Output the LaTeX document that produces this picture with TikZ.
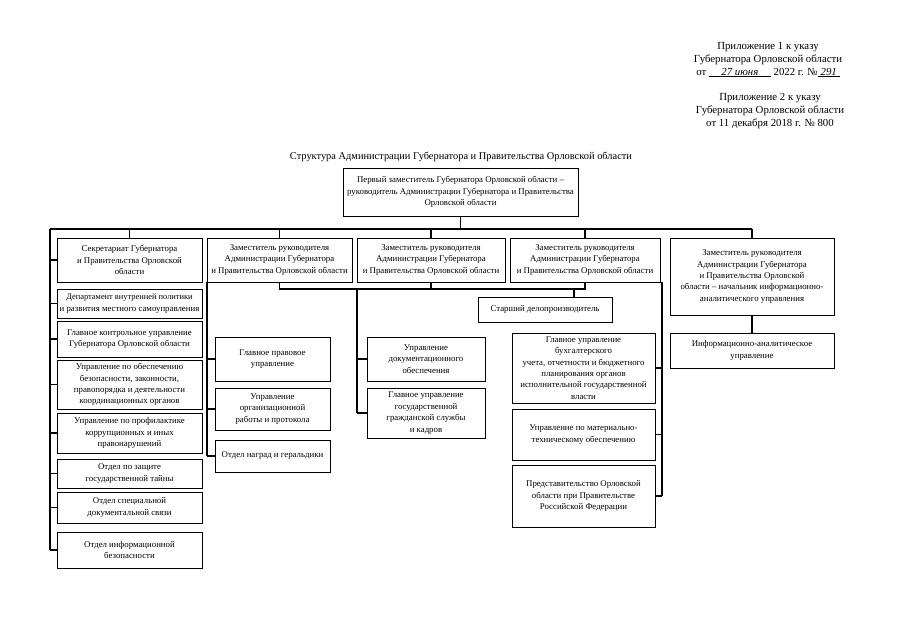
\documentclass[tikz,border=0pt]{standalone}
\usepackage{fontspec}
\setmainfont{Liberation Serif}
\tikzset{
  orgbox/.style={draw, line width=0.9pt, inner sep=1pt, outer sep=0pt, align=center,
    font=\fontsize{8.8}{11.4}\selectfont},
  link/.style={line width=1.1pt},
  hdr/.style={align=center, font=\fontsize{10.8}{12.6}\selectfont, inner sep=0pt}
}
\newcommand\obox[6]{\node[orgbox, minimum width={(#4-#2)*1pt}, minimum height={(#5-#3)*1pt}] (#1) at ({(#2+#4)/2},{(#3+#5)/2}) {#6};}
\begin{document}
\begin{tikzpicture}[x=1pt,y=-1pt]
\useasboundingbox (0,0) rectangle (905,637);
% header
\node[hdr] (h1) at (768,60) {Приложение 1 к указу\\ Губернатора Орловской области\\ от \underline{\makebox[62pt]{\itshape 27 июня}} 2022 г. №\underline{\makebox[22pt]{\itshape 291}}};
\node[hdr] (h2) at (770,111) {Приложение 2 к указу\\ Губернатора Орловской области\\ от 11 декабря 2018 г. № 800};
\node[hdr, font=\fontsize{10.4}{12.6}\selectfont] (title) at (461,157) {Структура Администрации Губернатора и Правительства Орловской области};
% top
\obox{t}{343}{168}{578}{216}{Первый заместитель Губернатора Орловской области –\\ руководитель Администрации Губернатора и Правительства\\ Орловской области}
% row
\obox{b1}{57}{238}{202}{282}{Секретариат Губернатора\\ и Правительства Орловской\\ области}
\obox{b2}{207}{238}{352}{282}{Заместитель руководителя\\ Администрации Губернатора\\ и Правительства Орловской области}
\obox{b3}{357}{238}{505}{282}{Заместитель руководителя\\ Администрации Губернатора\\ и Правительства Орловской области}
\obox{b4}{510}{238}{660}{282}{Заместитель руководителя\\ Администрации Губернатора\\ и Правительства Орловской области}
\obox{b5}{670}{238}{834}{315}{Заместитель руководителя\\ Администрации Губернатора\\ и Правительства Орловской\\ области – начальник информационно-\\ аналитического управления}
\obox{i}{670}{333}{834}{368}{Информационно-аналитическое\\ управление}
% column 1
\obox{s1}{57}{289}{202}{318}{\fontsize{8.4}{11}\selectfont Департамент внутренней политики\\ и развития местного самоуправления}
\obox{s2}{57}{321}{202}{357}{Главное контрольное управление\\ Губернатора Орловской области}
\obox{s3}{57}{360}{202}{409}{Управление по обеспечению\\ безопасности, законности,\\ правопорядка и деятельности\\ координационных органов}
\obox{s4}{57}{413}{202}{453}{Управление по профилактике\\ коррупционных и иных\\ правонарушений}
\obox{s5}{57}{459}{202}{488}{Отдел по защите\\ государственной тайны}
\obox{s6}{57}{492}{202}{523}{Отдел специальной\\ документальной связи}
\obox{s7}{57}{532}{202}{568}{Отдел информационной\\ безопасности}
% column 2
\obox{c21}{215}{337}{330}{381}{Главное правовое\\ управление}
\obox{c22}{215}{388}{330}{430}{Управление\\ организационной\\ работы и протокола}
\obox{c23}{215}{440}{330}{472}{Отдел наград и геральдики}
% column 3
\obox{c31}{367}{337}{485}{381}{Управление\\ документационного\\ обеспечения}
\obox{c32}{367}{388}{485}{438}{Главное управление\\ государственной\\ гражданской службы\\ и кадров}
\obox{d}{478}{297}{612}{322}{Старший делопроизводитель}
% column 4
\obox{c41}{512}{333}{655}{403}{Главное управление\\ бухгалтерского\\ учета, отчетности и бюджетного\\ планирования органов\\ исполнительной государственной\\ власти}
\obox{c42}{512}{409}{655}{460}{Управление по материально-\\ техническому обеспечению}
\obox{c43}{512}{465}{655}{527}{Представительство Орловской\\ области при Правительстве\\ Российской Федерации}
% coordinates
\coordinate (busL) at (50,229);
\coordinate (busR) at (752,229);
\coordinate (j) at (0,289);
% bus
\draw[link] (t.south) -- (t.south |- busL);
\draw[link] (busL) -- (busR);
\foreach \b in {b1,b2,b3,b4,b5} \draw[link] (\b.north |- busL) -- (\b.north);
% column 1 links
\draw[link] (busL) -- (busL |- s7.west);
\foreach \b in {b1,s1,s2,s3,s4,s5,s6,s7} \draw[link] (busL |- \b.west) -- (\b.west);
% column 2 links
\draw[link] (b2.south west) -- (b2.south west |- c23.west);
\foreach \b in {c21,c22,c23} \draw[link] (b2.south west |- \b.west) -- (\b.west);
% junction line under deputies
\draw[link] (b2.south) -- (b2.south |- j) -- (b4.south |- j) -- (b4.south);
\draw[link] (b3.south) -- (b3.south |- j);
\draw[link] ([xshift=29pt]d.north) -- ([xshift=29pt]d.north |- j);
% column 3 links
\draw[link] (b3.south west |- j) -- (b3.south west |- c32.west);
\foreach \b in {c31,c32} \draw[link] (b3.south west |- \b.west) -- (\b.west);
% column 4 links
\draw[link] ([xshift=2pt]b4.south east) -- ([xshift=2pt]b4.south east |- c43.east);
\foreach \b in {c41,c42,c43} \draw[link] ([xshift=2pt]b4.south east |- \b.east) -- (\b.east);
% column 5 link
\draw[link] (b5.south) -- (i.north);
\end{tikzpicture}
\end{document}
